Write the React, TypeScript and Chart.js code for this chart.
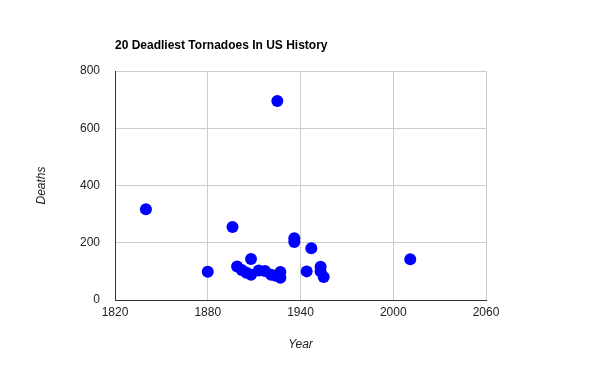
import React, { useEffect, useRef } from "react";
import { Chart, registerables } from "chart.js";

Chart.register(...registerables);

const chartTitle = "20 Deadliest Tornadoes In US History";
const xAxisTitle = "Year";
const yAxisTitle = "Deaths";

const years = [1840, 1880, 1896, 1899, 1902, 1905, 1908, 1908, 1913, 1917, 1921, 1924, 1925, 1927, 1927, 1936, 1936, 1944, 1947, 1953, 1953, 1955, 2011];
const deaths = [317, 99, 255, 117, 105, 95, 143, 88, 103, 101, 88, 85, 695, 98, 78, 216, 203, 100, 181, 116, 100, 80, 142];

const xTicks = [1820, 1880, 1940, 2000, 2060];
const yTicks = [0, 200, 400, 600, 800];

const FONT = "Arial, 'Liberation Sans', sans-serif";

export default function App() {
  const ref = useRef<HTMLCanvasElement | null>(null);

  useEffect(() => {
    if (!ref.current) return;
    const points = years.map((y, i) => ({ x: y, y: deaths[i] }));

    const textPlugin = {
      id: "texts",
      afterDraw(chart: any) {
        const { ctx, chartArea } = chart;
        ctx.save();
        ctx.fillStyle = "#000";
        ctx.font = `bold 12px ${FONT}`;
        ctx.textAlign = "left";
        ctx.textBaseline = "middle";
        ctx.fillText(chartTitle, chartArea.left, 46);

        ctx.fillStyle = "#222";
        ctx.font = `italic 12px ${FONT}`;
        ctx.textAlign = "center";
        ctx.fillText(xAxisTitle, (chartArea.left + chartArea.right) / 2, 345);

        ctx.translate(42, (chartArea.top + chartArea.bottom) / 2);
        ctx.rotate(-Math.PI / 2);
        ctx.fillText(yAxisTitle, 0, 0);
        ctx.restore();
      },
    };

    const chart = new Chart(ref.current, {
      type: "scatter",
      data: {
        datasets: [
          {
            data: points,
            backgroundColor: "#0000ff",
            borderColor: "#0000ff",
            borderWidth: 0,
            pointRadius: 6,
            pointHoverRadius: 6,
          },
        ],
      },
      options: {
        responsive: false,
        animation: false,
        layout: { padding: { left: 0, right: 114, top: 71, bottom: 0 } },
        plugins: {
          legend: { display: false },
          title: { display: false },
          tooltip: { enabled: false },
        },
        scales: {
          x: {
            type: "linear",
            min: xTicks[0],
            max: xTicks[xTicks.length - 1],
            afterBuildTicks: (s: any) => {
              s.ticks = xTicks.map((v) => ({ value: v }));
            },
            afterFit: (s: any) => {
              s.height = 71;
            },
            ticks: {
              callback: (v: any) => String(v),
              color: "#222",
              font: { family: FONT, size: 12 },
              padding: 5,
              maxRotation: 0,
              autoSkip: false,
            },
            grid: { color: "#cccccc", drawTicks: false, lineWidth: 1 },
            border: { display: true, color: "#333333", width: 1 },
          },
          y: {
            type: "linear",
            min: yTicks[0],
            max: yTicks[yTicks.length - 1],
            afterBuildTicks: (s: any) => {
              s.ticks = yTicks.map((v) => ({ value: v }));
            },
            afterFit: (s: any) => {
              s.width = 115;
            },
            ticks: {
              callback: (v: any) => String(v),
              color: "#222",
              font: { family: FONT, size: 12 },
              padding: 15,
              autoSkip: false,
            },
            grid: { color: "#cccccc", drawTicks: false, lineWidth: 1 },
            border: { display: true, color: "#333333", width: 1 },
          },
        },
      },
      plugins: [textPlugin],
    });
    return () => chart.destroy();
  }, []);

  return (
    <div style={{ position: "absolute", left: 0, top: 0, width: 600, height: 371, background: "#fff" }}>
      <canvas ref={ref} width={600} height={371} style={{ display: "block" }} />
    </div>
  );
}
